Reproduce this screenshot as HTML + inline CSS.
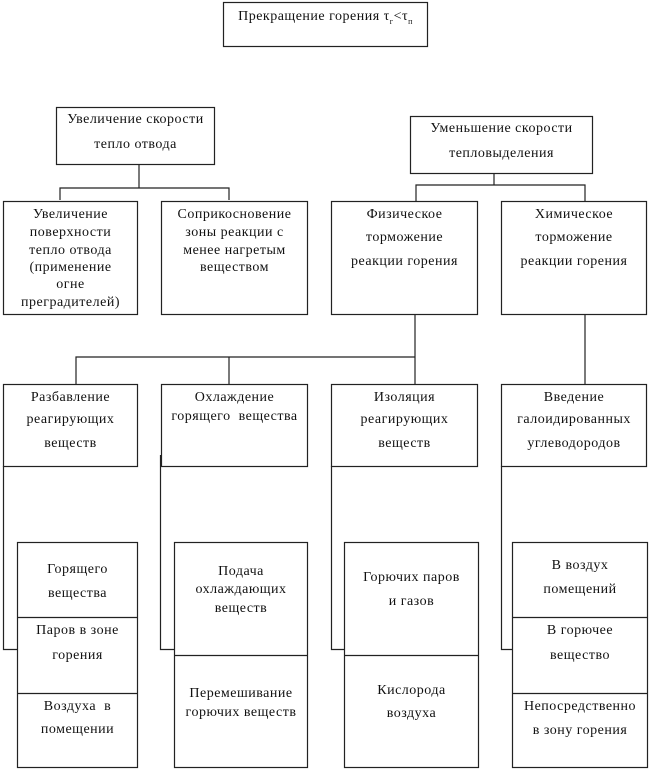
<!DOCTYPE html>
<html><head><meta charset="utf-8"><style>
body{margin:0;background:#fff;}
#c{position:relative;width:650px;height:772px;overflow:hidden;font-family:"Liberation Serif","Noto Serif CJK SC",serif;font-size:14px;letter-spacing:0.5px;color:#111;}
.t{position:absolute;text-align:center;line-height:16px;height:16px;white-space:nowrap;}
svg{position:absolute;left:0;top:0;}
</style></head><body><div id="c">
<svg width="650" height="772" fill="none" stroke="#222" stroke-width="1.2">
<rect x="223.5" y="2.5" width="204" height="44"/>
<rect x="56.5" y="107.5" width="158" height="57"/>
<rect x="410.5" y="116.5" width="182" height="57"/>
<polyline points="139,164 139,188"/><polyline points="60,200 60,188 229,188 229,200"/>
<polyline points="494,173 494,185"/><polyline points="416,201 416,185 585,185 585,201"/>
<rect x="3.5" y="201.5" width="134" height="113"/>
<rect x="161.5" y="201.5" width="146" height="113"/>
<rect x="331.5" y="201.5" width="146" height="113"/>
<rect x="501.5" y="201.5" width="145" height="113"/>
<polyline points="415,314 415,384"/><polyline points="76,384 76,357 415,357"/><polyline points="229,357 229,384"/>
<polyline points="585,314 585,384"/>
<rect x="3.5" y="384.5" width="134" height="82"/>
<rect x="161.5" y="384.5" width="146" height="82"/>
<rect x="331.5" y="384.5" width="146" height="82"/>
<rect x="501.5" y="384.5" width="145" height="82"/>
<polyline points="3.5,466 3.5,649.5 17,649.5"/>
<polyline points="160.5,455 160.5,649.5 174,649.5"/>
<polyline points="331.5,466 331.5,649.5 344,649.5"/>
<polyline points="501.5,466 501.5,649.5 512,649.5"/>
<rect x="17.5" y="542.5" width="120" height="225"/><line x1="17" y1="617.5" x2="137" y2="617.5"/><line x1="17" y1="693.5" x2="137" y2="693.5"/>
<rect x="174.5" y="542.5" width="133" height="225"/><line x1="174" y1="655.5" x2="307" y2="655.5"/>
<rect x="344.5" y="542.5" width="134" height="225"/><line x1="344" y1="655.5" x2="478" y2="655.5"/>
<rect x="512.5" y="542.5" width="135" height="225"/><line x1="512" y1="617.5" x2="648" y2="617.5"/><line x1="512" y1="693.5" x2="648" y2="693.5"/>
</svg>
<div class="t" style="left:223px;width:205px;top:9px">Прекращение горения τ<sub style="font-size:8px">г</sub>&lt;τ<sub style="font-size:8px">п</sub></div>
<div class="t" style="left:56px;width:159px;top:112px">Увеличение скорости</div>
<div class="t" style="left:56px;width:159px;top:137px">тепло отвода</div>
<div class="t" style="left:410px;width:183px;top:121px">Уменьшение скорости</div>
<div class="t" style="left:410px;width:183px;top:146px">тепловыделения</div>
<div class="t" style="left:3px;width:135px;top:207px">Увеличение</div>
<div class="t" style="left:3px;width:135px;top:225px">поверхности</div>
<div class="t" style="left:3px;width:135px;top:243px">тепло отвода</div>
<div class="t" style="left:3px;width:135px;top:260px">(применение</div>
<div class="t" style="left:3px;width:135px;top:277px">огне</div>
<div class="t" style="left:3px;width:135px;top:295px">преградителей)</div>
<div class="t" style="left:161px;width:147px;top:207px">Соприкосновение</div>
<div class="t" style="left:161px;width:147px;top:225px">зоны реакции с</div>
<div class="t" style="left:161px;width:147px;top:243px">менее нагретым</div>
<div class="t" style="left:161px;width:147px;top:260px">веществом</div>
<div class="t" style="left:331px;width:147px;top:207px">Физическое</div>
<div class="t" style="left:331px;width:147px;top:230px">торможение</div>
<div class="t" style="left:331px;width:147px;top:254px">реакции горения</div>
<div class="t" style="left:501px;width:146px;top:207px">Химическое</div>
<div class="t" style="left:501px;width:146px;top:230px">торможение</div>
<div class="t" style="left:501px;width:146px;top:254px">реакции горения</div>
<div class="t" style="left:3px;width:135px;top:390px">Разбавление</div>
<div class="t" style="left:3px;width:135px;top:412px">реагирующих</div>
<div class="t" style="left:3px;width:135px;top:436px">веществ</div>
<div class="t" style="left:161px;width:147px;top:390px">Охлаждение</div>
<div class="t" style="left:161px;width:147px;top:409px">горящего&nbsp; вещества</div>
<div class="t" style="left:331px;width:147px;top:390px">Изоляция</div>
<div class="t" style="left:331px;width:147px;top:412px">реагирующих</div>
<div class="t" style="left:331px;width:147px;top:436px">веществ</div>
<div class="t" style="left:501px;width:146px;top:390px">Введение</div>
<div class="t" style="left:501px;width:146px;top:412px">галоидированных</div>
<div class="t" style="left:501px;width:146px;top:436px">углеводородов</div>
<div class="t" style="left:17px;width:121px;top:562px">Горящего</div>
<div class="t" style="left:17px;width:121px;top:586px">вещества</div>
<div class="t" style="left:17px;width:121px;top:623px">Паров в зоне</div>
<div class="t" style="left:17px;width:121px;top:648px">горения</div>
<div class="t" style="left:17px;width:121px;top:699px">Воздуха&nbsp; в</div>
<div class="t" style="left:17px;width:121px;top:722px">помещении</div>
<div class="t" style="left:174px;width:134px;top:564px">Подача</div>
<div class="t" style="left:174px;width:134px;top:582px">охлаждающих</div>
<div class="t" style="left:174px;width:134px;top:601px">веществ</div>
<div class="t" style="left:174px;width:134px;top:686px">Перемешивание</div>
<div class="t" style="left:174px;width:134px;top:705px">горючих веществ</div>
<div class="t" style="left:344px;width:135px;top:570px">Горючих паров</div>
<div class="t" style="left:344px;width:135px;top:594px">и газов</div>
<div class="t" style="left:344px;width:135px;top:683px">Кислорода</div>
<div class="t" style="left:344px;width:135px;top:706px">воздуха</div>
<div class="t" style="left:512px;width:136px;top:558px">В воздух</div>
<div class="t" style="left:512px;width:136px;top:582px">помещений</div>
<div class="t" style="left:512px;width:136px;top:623px">В горючее</div>
<div class="t" style="left:512px;width:136px;top:648px">вещество</div>
<div class="t" style="left:512px;width:136px;top:699px">Непосредственно</div>
<div class="t" style="left:512px;width:136px;top:723px">в зону горения</div>
</div></body></html>
